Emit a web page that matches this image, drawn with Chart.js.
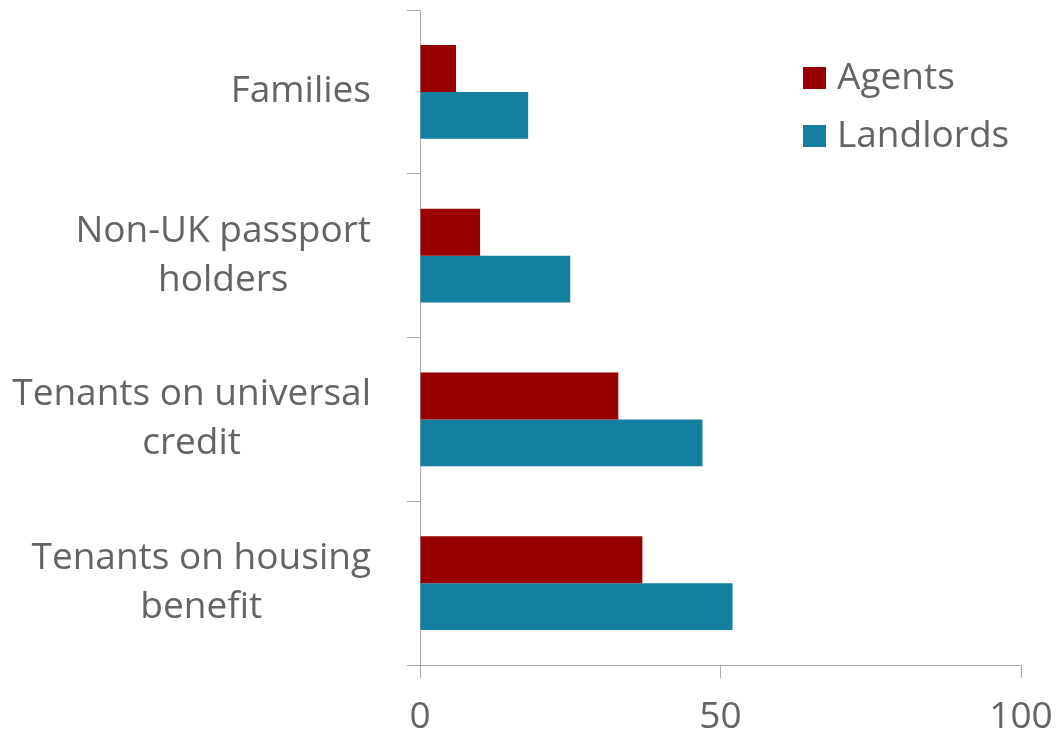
<!DOCTYPE html>
<html>
<head>
<meta charset="utf-8">
<script src="https://cdn.jsdelivr.net/npm/chart.js@4"></script>
<style>
  body { margin: 0; background: #fff; }
</style>
</head>
<body>
<canvas id="chart" width="1058" height="735"></canvas>
<script>
var categories = [
  ['Families'],
  ['Non-UK passport', 'holders'],
  ['Tenants on universal', 'credit'],
  ['Tenants on housing', 'benefit']
];
var agents = [6, 10, 33, 37];
var landlords = [18, 25, 47, 52];
var xTicks = [0, 50, 100];

var textColor = '#646464';
var axisColor = '#a8a8a8';
var fontFamily = '"Open Sans", sans-serif';

// y labels: block right aligned, lines centred inside the block
var yLabelsPlugin = {
  id: 'yLabels',
  afterDraw: function(chart) {
    var ctx = chart.ctx;
    var scale = chart.scales.y;
    var right = chart.chartArea.left - 49;
    var lineH = 49;
    ctx.save();
    ctx.font = '37px ' + fontFamily;
    ctx.fillStyle = textColor;
    ctx.textAlign = 'center';
    ctx.textBaseline = 'middle';
    categories.forEach(function(lines, i) {
      var y = scale.getPixelForTick(i);
      var widest = 0;
      lines.forEach(function(l) { widest = Math.max(widest, ctx.measureText(l).width); });
      var cx = right - widest / 2;
      var y0 = y - (lines.length - 1) * lineH / 2;
      lines.forEach(function(l, k) { ctx.fillText(l, cx, y0 + k * lineH); });
    });
    ctx.restore();
  }
};

var legendPlugin = {
  id: 'sideLegend',
  afterDraw: function(chart) {
    var ctx = chart.ctx;
    var x = chart.chartArea.right - 218;
    var y = 67;
    ctx.save();
    ctx.font = '37px ' + fontFamily;
    ctx.textBaseline = 'middle';
    ctx.textAlign = 'left';
    chart.data.datasets.forEach(function(ds, i) {
      var yy = y + i * 58;
      ctx.fillStyle = ds.backgroundColor;
      ctx.fillRect(x, yy, 23, 22);
      ctx.fillStyle = textColor;
      ctx.fillText(ds.label, x + 34, yy + 11);
    });
    ctx.restore();
  }
};

var config = {
  type: 'bar',
  data: {
    labels: categories,
    datasets: [{
      label: 'Agents',
      data: agents,
      backgroundColor: '#990000'
    }, {
      label: 'Landlords',
      data: landlords,
      backgroundColor: '#1380a1'
    }]
  },
  options: {
    indexAxis: 'y',
    responsive: false,
    animation: false,
    categoryPercentage: 0.573,
    barPercentage: 1,
    layout: {
      padding: { top: 10, right: 37, left: 0, bottom: 0 }
    },
    plugins: {
      legend: { display: false },
      tooltip: { enabled: false }
    },
    scales: {
      x: {
        min: 0,
        max: 100,
        afterBuildTicks: function(scale) {
          scale.ticks = xTicks.map(function(v) { return { value: v }; });
        },
        afterFit: function(scale) {
          scale.height = 70;
          scale.paddingRight = 0;
          scale.paddingLeft = 0;
        },
        grid: {
          drawOnChartArea: false,
          drawTicks: true,
          tickLength: 13,
          color: axisColor
        },
        border: { color: axisColor, width: 1 },
        ticks: {
          color: textColor,
          font: { family: fontFamily, size: 37 },
          padding: 17,
          maxRotation: 0
        }
      },
      y: {
        afterFit: function(scale) { scale.width = 420; },
        grid: {
          drawOnChartArea: false,
          tickLength: 13,
          color: axisColor
        },
        border: { color: axisColor, width: 1 },
        ticks: {
          color: 'rgba(0,0,0,0)',
          font: { family: fontFamily, size: 1 }
        }
      }
    }
  },
  plugins: [yLabelsPlugin, legendPlugin]
};

window.onload = function() {
  var ctx = document.getElementById('chart').getContext('2d');
  new Chart(ctx, config);
};
</script>
</body>
</html>
